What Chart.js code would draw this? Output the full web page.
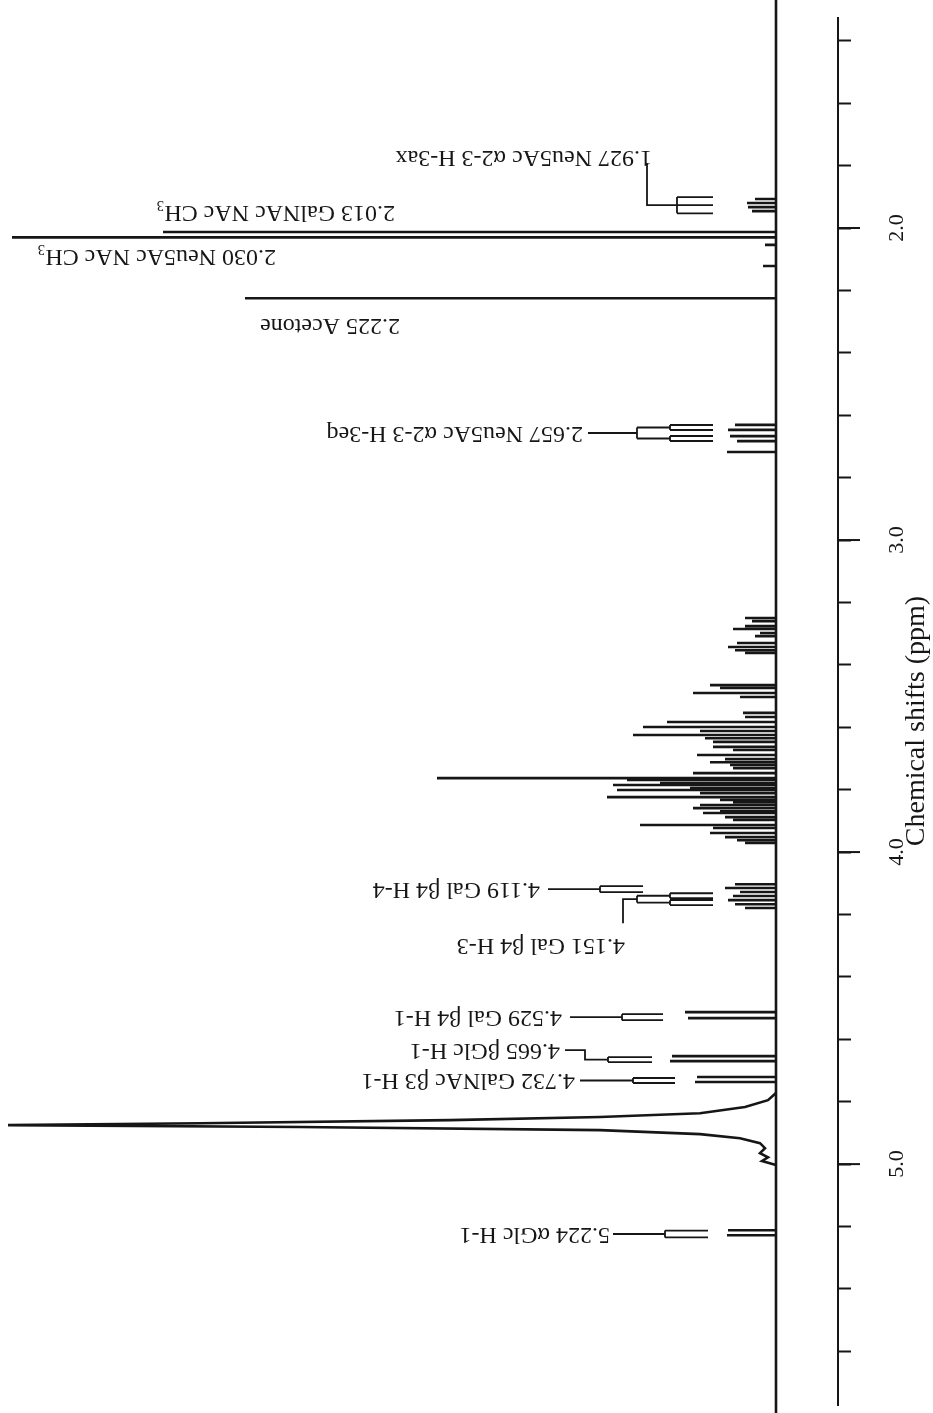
<!DOCTYPE html>
<html>
<head>
<meta charset="utf-8">
<script src="https://cdn.jsdelivr.net/npm/chart.js@4.4.1/dist/chart.umd.min.js"></script>
<style>
  html, body { margin: 0; padding: 0; background: #fff; }
  #wrap { width: 933px; height: 1413px; }
</style>
</head>
<body>
<div id="wrap"><canvas id="nmr" width="933" height="1413"></canvas></div>
<script>
// =========================
// 1H NMR SPECTRUM DATA
// =========================
// chemical shift (ppm) / intensity (arbitrary units) for each resolved line
const peakShift = [
  1.907, 1.920, 1.933, 1.946,
  2.013, 2.030, 2.054, 2.122, 2.225,
  2.631, 2.647, 2.667, 2.683, 2.718,
  3.250, 3.260, 3.276, 3.285, 3.298, 3.308, 3.330, 3.343, 3.353, 3.362,
  3.465, 3.474, 3.490, 3.503, 3.554, 3.567, 3.583, 3.599, 3.612, 3.625,
  3.635, 3.647, 3.663, 3.673, 3.689, 3.702, 3.712, 3.721, 3.731, 3.747,
  3.763, 3.769, 3.779, 3.785, 3.795, 3.801, 3.811, 3.824, 3.833, 3.840,
  3.849, 3.859, 3.869, 3.875, 3.888, 3.897, 3.913, 3.923, 3.939, 3.952,
  3.962, 3.971,
  4.103, 4.115, 4.128, 4.141, 4.154, 4.167, 4.179,
  4.513, 4.532, 4.654, 4.670, 4.721, 4.737,
  5.212, 5.228,
];
const peakHeight = [
  21, 29, 28, 24,
  613, 764, 11, 13, 531,
  41, 48, 46, 39, 49,
  31, 24, 31, 43, 16, 21, 39, 48, 41, 31,
  66, 56, 83, 36, 33, 31, 109, 133, 76, 143,
  71, 63, 63, 43, 79, 51, 66, 46, 43, 83,
  339, 149, 116, 163, 86, 159, 76, 169, 56, 43,
  76, 83, 56, 73, 51, 43, 136, 63, 66, 51,
  39, 31,
  41, 51, 36, 43, 48, 41, 31,
  91, 88, 104, 106, 79, 81,
  48, 49,
];

// residual HOD signal, traced as an outline
const waterShift = [4.772, 4.795, 4.817, 4.837, 4.849, 4.859, 4.869, 4.875,
  4.881, 4.891, 4.904, 4.917, 4.933, 4.949, 4.965, 4.978, 4.990, 5.003];
const waterHeight = [0, 8, 31, 76, 176, 326, 576, 768,
  476, 176, 76, 36, 16, 11, 16, 8, 14, 0];

// =========================
// ASSIGNMENTS
// =========================
const labelShift = [1.927, 2.013, 2.030, 2.225, 2.657, 4.119, 4.151, 4.529, 4.665, 4.732, 5.224];
const labelName = [
  "Neu5Ac α2-3 H-3ax",
  "GalNAc NAc CH₃",
  "Neu5Ac NAc CH₃",
  "Acetone",
  "Neu5Ac α2-3 H-3eq",
  "Gal β4 H-4",
  "Gal β4 H-3",
  "Gal β4 H-1",
  "βGlc H-1",
  "GalNAc β3 H-1",
  "αGlc H-1",
];
// multiplet trees: line offsets (ppm) of first and second splitting
const split1 = [[-0.026, 0, 0.026], [], [], [], [-0.0176, 0.0176], [-0.0096, 0.0096],
  [-0.011, 0.011], [-0.0096, 0.0096], [-0.008, 0.008], [-0.008, 0.008], [-0.011, 0.011]];
const split2 = [[], [], [], [], [-0.008, 0.008], [], [-0.008, 0.008], [], [], [], []];

// =========================
// AXIS
// =========================
const ppmMin = 1.327;
const ppmMax = 5.772;
const ppmStep = 0.2;
const axisTitle = "Chemical shifts (ppm)";

// -------------------------
// label placement (intensity units / ppm)
// -------------------------
const labelLayout = [
  { textAt: 124, textPpm: 1.772, stem: [[129, 1.792], [129, 1.927], [99, 1.927]], tree: [99, 63] },
  { textAt: 381, textPpm: 1.949 },
  { textAt: 500, textPpm: 2.090 },
  { textAt: 376, textPpm: 2.311 },
  { textAt: 193, textPpm: 2.657, stem: [[188, 2.657], [139, 2.657]], tree: [139, 106, 63] },
  { textAt: 236, textPpm: 4.119, stem: [[228, 4.119], [176, 4.119]], tree: [176, 133] },
  { textAt: 151, textPpm: 4.298, stem: [[153, 4.228], [153, 4.151], [139, 4.151]], tree: [139, 106, 63] },
  { textAt: 214, textPpm: 4.529, stem: [[206, 4.529], [154, 4.529]], tree: [154, 113] },
  { textAt: 216, textPpm: 4.635, stem: [[211, 4.635], [191, 4.635], [191, 4.665], [168, 4.665]], tree: [168, 124] },
  { textAt: 201, textPpm: 4.732, stem: [[196, 4.732], [143, 4.732]], tree: [143, 101] },
  { textAt: 166, textPpm: 5.224, stem: [[163, 5.224], [111, 5.224]], tree: [111, 68] },
];

const INK = "#161616";
const SERIF = "'Liberation Serif', 'DejaVu Serif', serif";

// sticks: baseline -> top -> baseline for each line
const sticks = [{ x: 0, y: 1.0 }];
peakShift.forEach((p, i) => {
  sticks.push({ x: 0, y: p }, { x: peakHeight[i], y: p }, { x: 0, y: p });
});
sticks.push({ x: 0, y: 6.0 });

const water = waterShift.map((p, i) => ({ x: waterHeight[i], y: p }));

// =========================
// 🖊️ ANNOTATIONS PLUGIN
// =========================
const annotate = {
  id: "annotate",
  afterDraw(chart) {
    const { ctx, chartArea } = chart;
    const xs = chart.scales.x;
    const ys = chart.scales.y;
    const X = (v) => xs.getPixelForValue(v);
    const Y = (v) => ys.getPixelForValue(v);

    ctx.save();
    ctx.strokeStyle = INK;
    ctx.fillStyle = INK;

    // longer major ticks at whole ppm
    ctx.lineWidth = 2;
    ys.ticks.forEach((t) => {
      if (Math.abs(t.value - Math.round(t.value)) > 1e-6) return;
      const y = Y(t.value);
      ctx.beginPath();
      ctx.moveTo(chartArea.right, y);
      ctx.lineTo(chartArea.right + 22, y);
      ctx.stroke();
    });

    // axis title, reading bottom to top
    ctx.save();
    ctx.translate(chartArea.right + 79, Y(3.58));
    ctx.rotate(-Math.PI / 2);
    ctx.font = "28px " + SERIF;
    ctx.textAlign = "center";
    ctx.textBaseline = "middle";
    ctx.fillText(axisTitle, 0, 0);
    ctx.restore();

    // assignment labels (upside down) + multiplet trees
    ctx.lineWidth = 1.8;
    labelShift.forEach((shift, i) => {
      const lay = labelLayout[i];
      ctx.save();
      ctx.translate(X(lay.textAt), Y(lay.textPpm));
      ctx.rotate(Math.PI);
      ctx.font = "24px " + SERIF;
      ctx.textAlign = "left";
      ctx.textBaseline = "middle";
      ctx.fillText(shift.toFixed(3) + " " + labelName[i], 0, 0);
      ctx.restore();

      if (!lay.stem) return;
      ctx.beginPath();
      lay.stem.forEach(([v, p], k) => {
        if (k === 0) ctx.moveTo(X(v), Y(p));
        else ctx.lineTo(X(v), Y(p));
      });
      ctx.stroke();

      const [t0, t1, t2] = lay.tree;
      const s1 = split1[i];
      const s2 = split2[i];
      ctx.beginPath();
      ctx.moveTo(X(t0), Y(shift + s1[0]));
      ctx.lineTo(X(t0), Y(shift + s1[s1.length - 1]));
      s1.forEach((o) => {
        ctx.moveTo(X(t0), Y(shift + o));
        ctx.lineTo(X(t1), Y(shift + o));
        if (s2.length && t2 != null) {
          ctx.moveTo(X(t1), Y(shift + o + s2[0]));
          ctx.lineTo(X(t1), Y(shift + o + s2[s2.length - 1]));
          s2.forEach((o2) => {
            ctx.moveTo(X(t1), Y(shift + o + o2));
            ctx.lineTo(X(t2), Y(shift + o + o2));
          });
        }
      });
      ctx.stroke();
    });
    ctx.restore();
  },
};

new Chart(document.getElementById("nmr"), {
  type: "scatter",
  data: {
    datasets: [
      { data: sticks, showLine: true, borderColor: INK, borderWidth: 2.6, pointRadius: 0, clip: false },
      { data: water, showLine: true, borderColor: INK, borderWidth: 2.6, pointRadius: 0 },
    ],
  },
  options: {
    responsive: false,
    animation: false,
    devicePixelRatio: 1,
    events: [],
    layout: { padding: { top: 18, bottom: 8, left: 0, right: 0 } },
    plugins: { legend: { display: false }, tooltip: { enabled: false } },
    scales: {
      x: { type: "linear", reverse: true, min: -62, max: 776, display: false },
      y: {
        type: "linear",
        position: "right",
        reverse: true,
        min: ppmMin,
        max: ppmMax,
        border: { display: true, color: INK, width: 2 },
        grid: { drawOnChartArea: false, drawTicks: true, tickLength: 13, tickWidth: 2, tickColor: INK },
        ticks: {
          stepSize: ppmStep,
          includeBounds: false,
          autoSkip: false,
          minRotation: 90,
          maxRotation: 90,
          crossAlign: "center",
          padding: 32,
          color: INK,
          font: { family: SERIF, size: 22 },
          callback: (v) => (Math.abs(v - Math.round(v)) < 1e-6 ? v.toFixed(1) : ""),
        },
        afterFit: (s) => {
          s.width = 95;
          s.paddingTop = 0;
          s.paddingBottom = 0;
        },
      },
    },
  },
  plugins: [annotate],
});
</script>
</body>
</html>
